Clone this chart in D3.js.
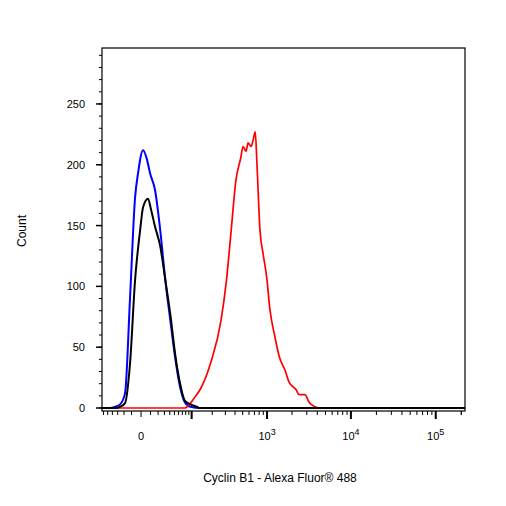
<!DOCTYPE html>
<html><head><meta charset="utf-8">
<script src="https://cdn.jsdelivr.net/npm/d3@7"></script>
<style>body{margin:0;background:#fff}text{font-family:Arial,"Liberation Sans",sans-serif}</style>
</head><body><svg id="c" width="506" height="506"></svg>
<script>
const blueX=[-64,-44.7,-34.8,-26,-18.5,-11.8,-6,-2.9,1.9,6,9.4,15.7,23.2,31.7,41.8,51.4,64,77,95.5,134,1000,221000];
const blueY=[0,0,1,3,12,91,173,193,212,204,193,179,146,105,70,42,17,5,1,0,0,0];
const blackX=[-64,-34.8,-26,-18.5,-11.8,-6,-0.9,1.9,7.1,10.6,15.7,23.2,31.7,41.8,51.4,64,77,95.5,120,134,221000];
const blackY=[0,0,1,4,37,105,146,165,172,163,149,133,105,75,45,20,6,3,1,0,0];
const redX=[-64,77,112.4,134,190,263,310,357,410,474,505,551,584,636,674,717,752,820,894,1000,1075,1250,1410,1650,1850,2240,2425,2860,3180,3770,4170,221000];
const redY=[0,0,9,15,37,72,105,146,187,206,215,211,218,215,220,227,201,146,127,105,83,58,42,31,21,15,11,11,5,1,0,0];
const yTicks=[0,50,100,150,200,250];
const xMajor=[100,1000,10000,100000];
const xLabels=[{v:0,t:"0",e:""},{v:1000,t:"10",e:"3"},{v:10000,t:"10",e:"4"},{v:100000,t:"10",e:"5"}];

const svg=d3.select("#c");
const L=102,R=465,T=48,B=411;
const x=d3.scaleSymlog().constant(34).domain([-64,221000]).range([L,R]);
const y=d3.scaleLinear().domain([0,296]).range([408,T]);

const xMinor=[];
for(let v=-60;v<0;v+=10)xMinor.push(v);
for(let v=10;v<100;v+=10)xMinor.push(v);
for(let d=100;d<=100000;d*=10)for(let k=2;k<=9;k++){if(d*k<=221000)xMinor.push(d*k);}
xMinor.push(200000);
const g=svg.append("g");
g.selectAll(".xm").data(xMinor).join("line").attr("x1",d=>x(d)).attr("x2",d=>x(d)).attr("y1",B).attr("y2",B+4).attr("stroke","#000").attr("stroke-width",1);
g.selectAll(".xM").data(xMajor).join("line").attr("x1",d=>x(d)).attr("x2",d=>x(d)).attr("y1",B).attr("y2",B+8).attr("stroke","#000").attr("stroke-width",2);
g.append("line").attr("x1",x(0)).attr("x2",x(0)).attr("y1",B).attr("y2",B+6).attr("stroke","#000").attr("stroke-width",1);
const xl=g.selectAll(".xl").data(xLabels).join("text").attr("x",d=>x(d.v)).attr("y",440).attr("text-anchor","middle").attr("font-size",11);
xl.append("tspan").text(d=>d.t);
xl.append("tspan").attr("dy",-5).attr("font-size",9).text(d=>d.e);

const yMinor=d3.range(0,300,10);
g.selectAll(".ym").data(yMinor).join("line").attr("x1",L-3).attr("x2",L).attr("y1",d=>y(d)).attr("y2",d=>y(d)).attr("stroke","#000");
g.selectAll(".yM").data(yTicks).join("line").attr("x1",L-6).attr("x2",L).attr("y1",d=>y(d)).attr("y2",d=>y(d)).attr("stroke","#000").attr("stroke-width",1.5);
g.selectAll(".yl").data(yTicks).join("text").attr("x",L-17).attr("y",d=>y(d)+4).attr("text-anchor","end").attr("font-size",11).text(d=>d);

const line=d3.line().x(d=>x(d[0])).y(d=>y(d[1])).curve(d3.curveMonotoneX);
const series=[[blueX,blueY,"#0000ff",2],[redX,redY,"#ff0000",1.7],[blackX,blackY,"#000",2]];
series.forEach(([xs,ys,c,w])=>{
  svg.append("path").attr("d",line(xs.map((v,i)=>[v,ys[i]]))).attr("fill","none").attr("stroke",c).attr("stroke-width",w).attr("stroke-linejoin","round");
});
svg.append("rect").attr("x",L).attr("y",T).attr("width",R-L).attr("height",B-T).attr("fill","none").attr("stroke","#000").attr("stroke-width",1.2);

svg.append("text").attr("transform","translate(26,231) rotate(-90)").attr("text-anchor","middle").attr("font-size",12).text("Count");
svg.append("text").attr("x",280).attr("y",482).attr("text-anchor","middle").attr("font-size",12).text("Cyclin B1 - Alexa Fluor® 488");
</script></body></html>
